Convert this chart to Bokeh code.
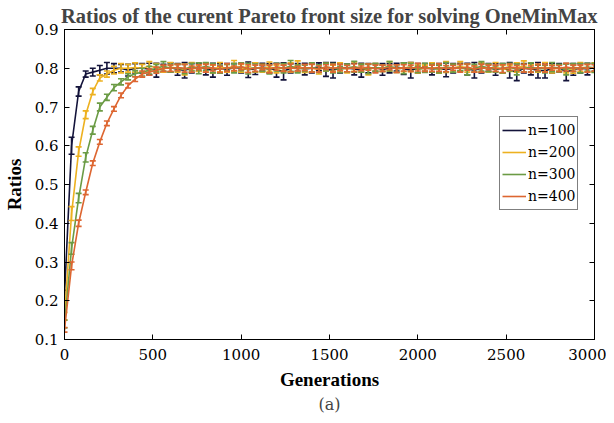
from bokeh.plotting import figure
from bokeh.models import (LinearAxis, Range1d, FixedTicker, Legend, LegendItem,
                          ColumnDataSource, Title)
from bokeh.embed import file_html
from bokeh.resources import INLINE

FONT_B = "Liberation Serif"
FONT_R = "DejaVu Serif"

gens = list(range(0, 3001, 40))
labels = ["n=100", "n=200", "n=300", "n=400"]
colors = ["#13133a", "#EDB120", "#6b9b45", "#DD6631"]

n100 = [0.215, 0.600, 0.740, 0.785, 0.790, 0.795, 0.800, 0.800, 0.800, 0.795, 0.800,
        0.800, 0.798, 0.795, 0.800, 0.802, 0.797, 0.795, 0.800, 0.803, 0.798,
        0.795, 0.800, 0.797, 0.802, 0.800, 0.796, 0.799, 0.803, 0.800, 0.795,
        0.792, 0.800, 0.802, 0.798, 0.800, 0.804, 0.797, 0.795, 0.800, 0.801,
        0.798, 0.795, 0.800, 0.802, 0.797, 0.800, 0.803, 0.799, 0.795, 0.800,
        0.802, 0.798, 0.800, 0.796, 0.800, 0.803, 0.798, 0.795, 0.800, 0.802,
        0.797, 0.800, 0.795, 0.790, 0.800, 0.798, 0.795, 0.793, 0.800, 0.802,
        0.790, 0.797, 0.800, 0.798, 0.802]
e100 = [0.012, 0.022, 0.012, 0.008, 0.010, 0.012, 0.015, 0.012, 0.010, 0.015, 0.012,
        0.012, 0.015, 0.018, 0.010, 0.012, 0.015, 0.020, 0.012, 0.010, 0.015,
        0.018, 0.012, 0.015, 0.010, 0.012, 0.020, 0.015, 0.010, 0.012, 0.018,
        0.022, 0.012, 0.010, 0.015, 0.012, 0.010, 0.018, 0.020, 0.012, 0.010,
        0.015, 0.018, 0.012, 0.010, 0.015, 0.012, 0.010, 0.015, 0.020, 0.012,
        0.010, 0.015, 0.012, 0.018, 0.012, 0.010, 0.015, 0.020, 0.012, 0.010,
        0.015, 0.012, 0.020, 0.022, 0.012, 0.015, 0.020, 0.018, 0.012, 0.010,
        0.022, 0.015, 0.012, 0.015, 0.010]

n200 = [0.160, 0.425, 0.585, 0.680, 0.740, 0.775, 0.785, 0.795, 0.800, 0.800, 0.802,
        0.800, 0.805, 0.802, 0.798, 0.803, 0.800, 0.797, 0.805, 0.800, 0.802,
        0.798, 0.803, 0.800, 0.806, 0.800, 0.797, 0.802, 0.800, 0.804, 0.798,
        0.800, 0.802, 0.805, 0.799, 0.801, 0.797, 0.803, 0.800, 0.802, 0.798,
        0.804, 0.800, 0.797, 0.802, 0.800, 0.805, 0.799, 0.801, 0.803, 0.798,
        0.800, 0.802, 0.797, 0.803, 0.800, 0.805, 0.800, 0.798, 0.802, 0.800,
        0.803, 0.797, 0.800, 0.802, 0.805, 0.799, 0.800, 0.803, 0.798, 0.801,
        0.800, 0.797, 0.803, 0.800, 0.802]
e200 = [0.010, 0.018, 0.012, 0.010, 0.008, 0.008, 0.008, 0.010, 0.012, 0.010, 0.012,
        0.010, 0.012, 0.010, 0.008, 0.012, 0.010, 0.014, 0.010, 0.008, 0.012,
        0.010, 0.012, 0.010, 0.014, 0.010, 0.008, 0.012, 0.010, 0.012, 0.010,
        0.008, 0.012, 0.014, 0.010, 0.010, 0.012, 0.010, 0.008, 0.012, 0.010,
        0.012, 0.010, 0.014, 0.010, 0.008, 0.012, 0.010, 0.010, 0.012, 0.010,
        0.008, 0.012, 0.010, 0.014, 0.010, 0.012, 0.010, 0.008, 0.012, 0.010,
        0.012, 0.010, 0.008, 0.012, 0.014, 0.010, 0.010, 0.012, 0.010, 0.008,
        0.012, 0.010, 0.012, 0.010, 0.012]

n300 = [0.140, 0.335, 0.465, 0.570, 0.640, 0.700, 0.725, 0.750, 0.765, 0.778, 0.786,
        0.790, 0.795, 0.800,
        0.805, 0.800, 0.802, 0.798, 0.803, 0.800, 0.805, 0.800, 0.797, 0.802,
        0.800, 0.804, 0.799, 0.801, 0.800, 0.797, 0.803, 0.800, 0.806, 0.798,
        0.800, 0.802, 0.799, 0.803, 0.800, 0.797, 0.801, 0.804, 0.800, 0.798,
        0.802, 0.800, 0.805, 0.799, 0.800, 0.803, 0.797, 0.801, 0.800, 0.798,
        0.803, 0.800, 0.802, 0.797, 0.800, 0.805, 0.801, 0.798, 0.800, 0.803,
        0.797, 0.800, 0.802, 0.800, 0.798, 0.803, 0.800, 0.797, 0.802, 0.800,
        0.803, 0.801]
e300 = [0.010, 0.015, 0.012, 0.012, 0.010, 0.010, 0.008, 0.008, 0.008, 0.008, 0.008,
        0.010, 0.010, 0.010,
        0.012, 0.010, 0.008, 0.012, 0.010, 0.014, 0.010, 0.012, 0.010, 0.008,
        0.012, 0.010, 0.014, 0.010, 0.008, 0.012, 0.010, 0.012, 0.014, 0.010,
        0.008, 0.012, 0.010, 0.010, 0.012, 0.008, 0.010, 0.014, 0.010, 0.012,
        0.010, 0.008, 0.012, 0.010, 0.014, 0.010, 0.008, 0.012, 0.010, 0.010,
        0.012, 0.010, 0.008, 0.014, 0.010, 0.012, 0.010, 0.008, 0.012, 0.010,
        0.014, 0.010, 0.012, 0.008, 0.010, 0.012, 0.010, 0.014, 0.010, 0.012,
        0.010, 0.012]

n400 = [0.125, 0.290, 0.400, 0.480, 0.555, 0.610, 0.658, 0.695, 0.730, 0.755, 0.772,
        0.785, 0.790, 0.795, 0.800, 0.800,
        0.802, 0.800, 0.798, 0.803, 0.800, 0.801, 0.797, 0.802, 0.800, 0.804,
        0.799, 0.800, 0.802, 0.798, 0.803, 0.800, 0.801, 0.799, 0.802, 0.800,
        0.798, 0.803, 0.800, 0.802, 0.799, 0.801, 0.800, 0.803, 0.798, 0.800,
        0.802, 0.799, 0.801, 0.800, 0.803, 0.798, 0.800, 0.802, 0.799, 0.801,
        0.800, 0.803, 0.798, 0.800, 0.802, 0.800, 0.799, 0.803, 0.801, 0.800,
        0.798, 0.802, 0.800, 0.801, 0.799, 0.803, 0.800, 0.802, 0.800, 0.801]
e400 = [0.006, 0.010, 0.008, 0.006, 0.006, 0.006, 0.006, 0.006, 0.006, 0.006, 0.006,
        0.008, 0.008, 0.008, 0.008, 0.008,
        0.008, 0.010, 0.008, 0.006, 0.010, 0.008, 0.008, 0.010, 0.006, 0.008,
        0.010, 0.008, 0.006, 0.010, 0.008, 0.008, 0.010, 0.006, 0.008, 0.010,
        0.008, 0.006, 0.010, 0.008, 0.008, 0.010, 0.006, 0.008, 0.010, 0.008,
        0.006, 0.010, 0.008, 0.008, 0.010, 0.006, 0.008, 0.010, 0.008, 0.006,
        0.010, 0.008, 0.008, 0.010, 0.006, 0.008, 0.010, 0.008, 0.006, 0.010,
        0.008, 0.008, 0.010, 0.006, 0.008, 0.010, 0.008, 0.006, 0.010, 0.008]

series = [n100, n200, n300, n400]
errors = [e100, e200, e300, e400]

p = figure(width=606, height=415, output_backend="svg", toolbar_location=None,
           x_range=Range1d(0, 3000), y_range=Range1d(0.1, 0.9),
           min_border_left=62, min_border_right=12, min_border_top=29,
           min_border_bottom=76)
p.background_fill_color = "white"
p.border_fill_color = "white"
p.outline_line_color = "black"
p.outline_line_width = 1
p.xgrid.visible = False
p.ygrid.visible = False

p.title.text = "Ratios of the curent Pareto front size for solving OneMinMax"
p.title.align = "center"
p.title.text_font = FONT_B
p.title.text_font_size = "20.5px"
p.title.text_font_style = "bold"
p.title.standoff = 5

xt = FixedTicker(ticks=[0, 500, 1000, 1500, 2000, 2500, 3000])
yt = FixedTicker(ticks=[0.1, 0.2, 0.3, 0.4, 0.5, 0.6, 0.7, 0.8, 0.9])

def style(ax, ticker, show_labels=True):
    ax.ticker = ticker
    ax.minor_tick_line_color = None
    ax.major_tick_in = 5
    ax.major_tick_out = 0
    ax.axis_line_color = "black"
    ax.major_tick_line_color = "black"
    ax.major_label_text_font = FONT_R
    ax.major_label_text_font_size = "15px"
    ax.major_label_text_color = "black" if show_labels else None
    ax.axis_label_text_font = FONT_B
    ax.axis_label_text_font_style = "bold"
    ax.axis_label_text_font_size = "19px"
    ax.axis_label_text_color = "black"

style(p.xaxis[0], xt)
style(p.yaxis[0], yt)
p.xaxis[0].axis_label = "Generations"
p.yaxis[0].axis_label = "Ratios"
p.xaxis[0].major_label_standoff = 9
p.yaxis[0].major_label_standoff = 6
p.xaxis[0].axis_label_standoff = 6
p.yaxis[0].axis_label_standoff = 7

top = LinearAxis()
style(top, xt, False)
p.add_layout(top, "above")
right = LinearAxis()
style(right, yt, False)
p.add_layout(right, "right")

cap = Title(text="(a)", align="center", text_font=FONT_R, text_font_size="16px",
            text_font_style="normal", standoff=0, offset=0)
p.add_layout(cap, "below")

items = []
for lab, col, ys, es in zip(labels, colors, series, errors):
    lo = [y - e for y, e in zip(ys, es)]
    hi = [y + e for y, e in zip(ys, es)]
    src = ColumnDataSource(dict(x=gens, y=ys, lo=lo, hi=hi))
    ln = p.line("x", "y", source=src, line_color=col, line_width=1.6)
    p.segment(x0="x", y0="lo", x1="x", y1="hi", source=src, line_color=col, line_width=1.6)
    p.scatter("x", "lo", source=src, marker="dash", size=6, line_color=col, line_width=1.6)
    p.scatter("x", "hi", source=src, marker="dash", size=6, line_color=col, line_width=1.6)
    icon = p.scatter(x=[], y=[], marker="cross", size=10, line_color=col, line_width=1.6)
    items.append(LegendItem(label=lab, renderers=[ln, icon]))

legend = Legend(items=items, location=(435, 129))
legend.label_text_font = FONT_R
legend.label_text_font_size = "14px"
legend.label_text_color = "black"
legend.border_line_color = "black"
legend.border_line_width = 1
legend.background_fill_alpha = 1
legend.glyph_width = 24
legend.glyph_height = 22
legend.label_height = 22
legend.spacing = 0
legend.padding = 2
legend.margin = 0
legend.label_standoff = 2
p.add_layout(legend, "center")

open("out.html", "w").write(file_html(p, INLINE))
